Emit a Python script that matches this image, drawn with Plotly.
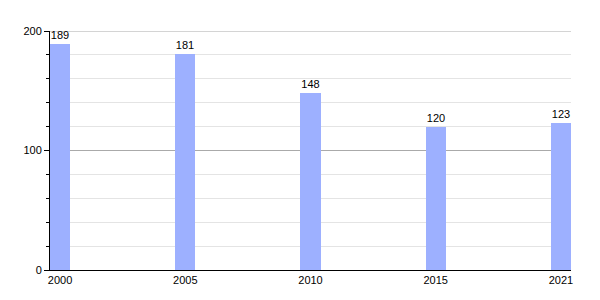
import plotly.graph_objects as go

years = ["2000", "2005", "2010", "2015", "2021"]
values = [189, 181, 148, 120, 123]
y_ticks = [0, 100, 200]

positions = list(range(len(years)))

fig = go.Figure(go.Bar(
    x=positions,
    y=values,
    width=0.16,
    marker=dict(color="#9db0ff", line=dict(width=0)),
    text=[str(v) for v in values],
    textposition="outside",
    textfont=dict(family="Liberation Sans, Arial", size=11, color="#000"),
    cliponaxis=False,
))

# top major gridline (plotly drops gridlines at the range edge)
fig.add_hline(y=y_ticks[-1], line=dict(color="#aaaaaa", width=1), layer="below")

fig.update_layout(
    width=600, height=300,
    margin=dict(l=50, r=29, t=31, b=30),
    paper_bgcolor="white", plot_bgcolor="white",
    showlegend=False,
    bargap=0,
    font=dict(family="Liberation Sans, Arial", size=11, color="#000"),
)
fig.update_xaxes(
    range=[-0.08, 4.08],
    tickmode="array", tickvals=positions, ticktext=years,
    showgrid=False, showline=True, linecolor="black", linewidth=1,
    ticks="", zeroline=False,
    tickfont=dict(size=11),
)
fig.update_yaxes(
    range=[0, 200],
    tickmode="array", tickvals=y_ticks,
    showgrid=True, gridcolor="#aaaaaa", gridwidth=1,
    showline=True, linecolor="black", linewidth=1,
    ticks="outside", ticklen=5, tickcolor="black",
    zeroline=False,
    minor=dict(dtick=20, showgrid=True, gridcolor="#e4e4e4", ticks="outside", ticklen=3, tickcolor="black"),
    tickfont=dict(size=11),
)

fig.write_html("out.html")
